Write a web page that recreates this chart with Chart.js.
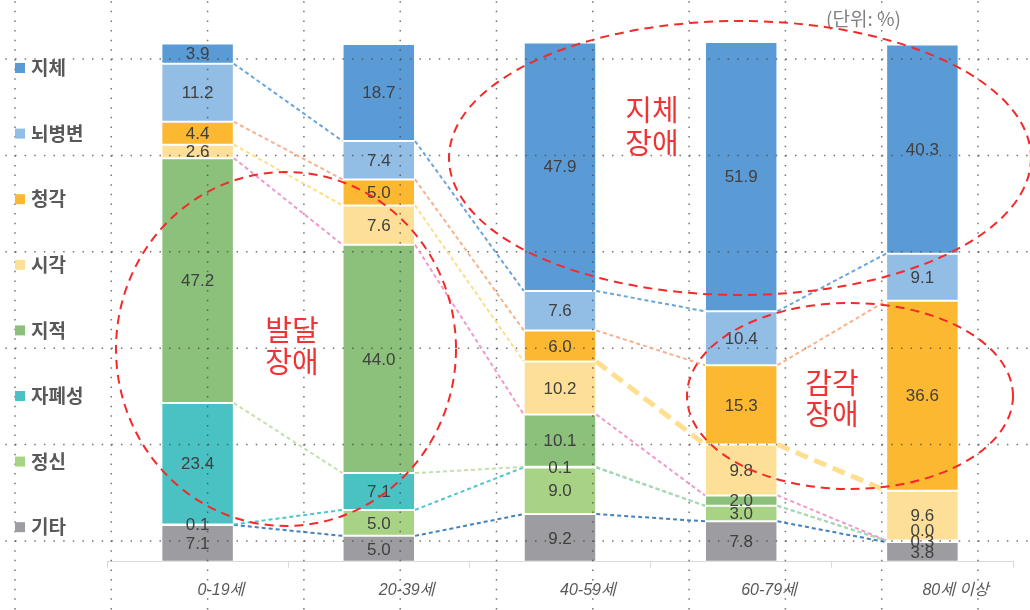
<!DOCTYPE html>
<html>
<head>
<meta charset="utf-8">
<script src="https://cdn.jsdelivr.net/npm/chart.js@4.4.1/dist/chart.umd.min.js"></script>
<style>
  html, body { margin: 0; padding: 0; background: #fff; }
  #wrap { width: 1030px; height: 610px; position: relative; }
</style>
</head>
<body>
<div id="wrap"><canvas id="c" width="1030" height="610"></canvas></div>
<script>
// 연령대별 장애유형 구성 (단위: %)
const ageGroups = ['0-19세', '20-39세', '40-59세', '60-79세', '80세 이상'];
const seriesNames = ['기타', '정신', '자폐성', '지적', '시각', '청각', '뇌병변', '지체'];

const etc = [7.1, 5.0, 9.2, 7.8, 3.8];
const mental = [0.1, 5.0, 9.0, 3.0, 0.3];
const autism = [23.4, 7.1, 0.1, null, null];
const intellectual = [47.2, 44.0, 10.1, 2.0, 0.0];
const visual = [2.6, 7.6, 10.2, 9.8, 9.6];
const hearing = [4.4, 5.0, 6.0, 15.3, 36.6];
const brain = [11.2, 7.4, 7.6, 10.4, 9.1];
const physical = [3.9, 18.7, 47.9, 51.9, 40.3];

const seriesValues = [etc, mental, autism, intellectual, visual, hearing, brain, physical];

const barColors = ['#9c9ca1', '#a8d384', '#4ac1c3', '#8bc17a', '#fedf97', '#fcb830', '#92bde5', '#5b9bd5'];
// 각 계열 윗선을 잇는 점선 색
const lineColors = ['#2e75b6', '#3ebfc6', '#bcdda6', '#ee8ec4', '#ffd97a', '#f4aa80', '#5b9bd5'];

const FONT_KR = '"Noto Sans CJK KR", "Noto Sans", sans-serif';
const FONT_NUM = '"Liberation Sans", Arial, sans-serif';

// 배경 점선 격자
const dotGrid = {
    id: 'dotGrid',
    afterDatasetsDraw(chart) {
        const ctx = chart.ctx;
        const step = 96.3;
        ctx.save();
        ctx.strokeStyle = 'rgba(70,70,70,0.75)';
        ctx.lineWidth = 1.5;
        ctx.setLineDash([1.5, step / 10 - 1.5]);
        for (let k = 0; k < 11; k++) {
            const x = 15 + k * step;
            ctx.beginPath();
            ctx.moveTo(x, 59 - step);
            ctx.lineTo(x, 620);
            ctx.stroke();
        }
        for (let k = 0; k < 6; k++) {
            const y = 59 + k * 96.4;
            ctx.beginPath();
            ctx.moveTo(15 - step, y);
            ctx.lineTo(1040, y);
            ctx.stroke();
        }
        ctx.restore();
    }
};

// 막대 사이 계열선
const seriesLines = {
    id: 'seriesLines',
    afterDatasetsDraw(chart) {
        const ctx = chart.ctx;
        const yScale = chart.scales.y;
        const bars = chart.getDatasetMeta(0).data;
        ctx.save();
        for (let i = 0; i < ageGroups.length - 1; i++) {
            const x1 = bars[i].x + bars[i].width / 2;
            const x2 = bars[i + 1].x - bars[i + 1].width / 2;
            let c1 = 0, c2 = 0;
            for (let s = 0; s < 7; s++) {
                c1 += seriesValues[s][i] || 0;
                c2 += seriesValues[s][i + 1] || 0;
                const thick = (s === 4 && i >= 2);
                ctx.beginPath();
                ctx.setLineDash(thick ? [13, 7] : [4, 3]);
                ctx.lineWidth = thick ? 5 : 2;
                ctx.strokeStyle = lineColors[s];
                ctx.globalAlpha = thick ? 0.85 : 0.9;
                ctx.moveTo(x1, yScale.getPixelForValue(c1));
                ctx.lineTo(x2, yScale.getPixelForValue(c2));
                ctx.stroke();
            }
        }
        ctx.restore();
    }
};

// 막대 안 값 표시
const valueLabels = {
    id: 'valueLabels',
    afterDatasetsDraw(chart) {
        const ctx = chart.ctx;
        ctx.save();
        ctx.font = '17px ' + FONT_NUM;
        ctx.fillStyle = '#404040';
        ctx.textAlign = 'center';
        ctx.textBaseline = 'middle';
        for (let i = 0; i < ageGroups.length; i++) {
            let prevY = null;
            chart.data.datasets.forEach((ds, s) => {
                const v = ds.data[i];
                if (v === null || v === undefined) return;
                const el = chart.getDatasetMeta(s).data[i];
                let y = (el.y + el.base) / 2 + 1;
                if (prevY !== null && prevY - y < 11) y = prevY - 11;
                ctx.fillText(v.toFixed(1), el.x, y);
                prevY = y;
            });
        }
        ctx.restore();
    }
};

// 범례, 단위, 빨간 점선 타원 주석
const annotations = {
    id: 'annotations',
    afterDraw(chart) {
        const ctx = chart.ctx;
        ctx.save();

        // 범례 (위에서 아래로: 지체 ... 기타)
        ctx.font = 'bold 19px ' + FONT_KR;
        ctx.textBaseline = 'middle';
        ctx.textAlign = 'left';
        for (let k = 0; k < seriesNames.length; k++) {
            const s = seriesNames.length - 1 - k;
            const y = 68 + k * 65.6;
            ctx.fillStyle = chart.data.datasets[s].backgroundColor;
            ctx.fillRect(15, y - 5, 10, 10);
            ctx.fillStyle = '#595959';
            ctx.fillText(chart.data.datasets[s].label, 31, y);
        }

        // 단위
        ctx.font = '19px ' + FONT_KR;
        ctx.fillStyle = '#808080';
        ctx.fillText('(단위: %)', 826, 19);

        // 타원
        ctx.strokeStyle = '#f42a2a';
        ctx.lineWidth = 2;
        ctx.setLineDash([9, 6]);
        [[286, 349, 170, 177], [740, 158, 291, 137], [850, 396, 163, 93]].forEach(e => {
            ctx.beginPath();
            ctx.ellipse(e[0], e[1], e[2], e[3], 0, 0, Math.PI * 2);
            ctx.stroke();
        });

        // 주석 글자
        ctx.setLineDash([]);
        ctx.fillStyle = '#f03434';
        ctx.font = '29px ' + FONT_KR;
        ctx.textAlign = 'center';
        [['발달', 292, 330], ['장애', 292, 362],
         ['지체', 652, 110], ['장애', 652, 143],
         ['감각', 832, 383], ['장애', 832, 414]].forEach(t => ctx.fillText(t[0], t[1], t[2]));

        ctx.restore();
    }
};

const datasets = seriesNames.map((name, s) => ({
    label: name,
    data: seriesValues[s],
    backgroundColor: barColors[s],
    borderColor: 'rgba(255,255,255,0.55)',
    borderWidth: 1,
    borderSkipped: false,
    categoryPercentage: 1.0,
    barPercentage: 0.4
}));

new Chart(document.getElementById('c').getContext('2d'), {
    type: 'bar',
    data: { labels: ageGroups, datasets: datasets },
    options: {
        responsive: false,
        animation: false,
        layout: { padding: { left: 107, right: 17, top: 43, bottom: -3 } },
        plugins: {
            legend: { display: false },
            tooltip: { enabled: false }
        },
        scales: {
            x: {
                stacked: true,
                offset: true,
                grid: {
                    display: true,
                    offset: true,
                    drawOnChartArea: false,
                    drawTicks: true,
                    tickLength: 6,
                    color: '#d9d9d9'
                },
                border: { display: true, color: '#d9d9d9' },
                ticks: {
                    align: 'start',
                    padding: 13,
                    maxRotation: 0,
                    minRotation: 0,
                    autoSkip: false,
                    color: '#595959',
                    font: { family: FONT_NUM + ', ' + FONT_KR, size: 16, style: 'italic' }
                }
            },
            y: {
                stacked: true,
                display: false,
                min: 0,
                max: 100
            }
        }
    },
    plugins: [dotGrid, seriesLines, valueLabels, annotations]
});
</script>
</body>
</html>
